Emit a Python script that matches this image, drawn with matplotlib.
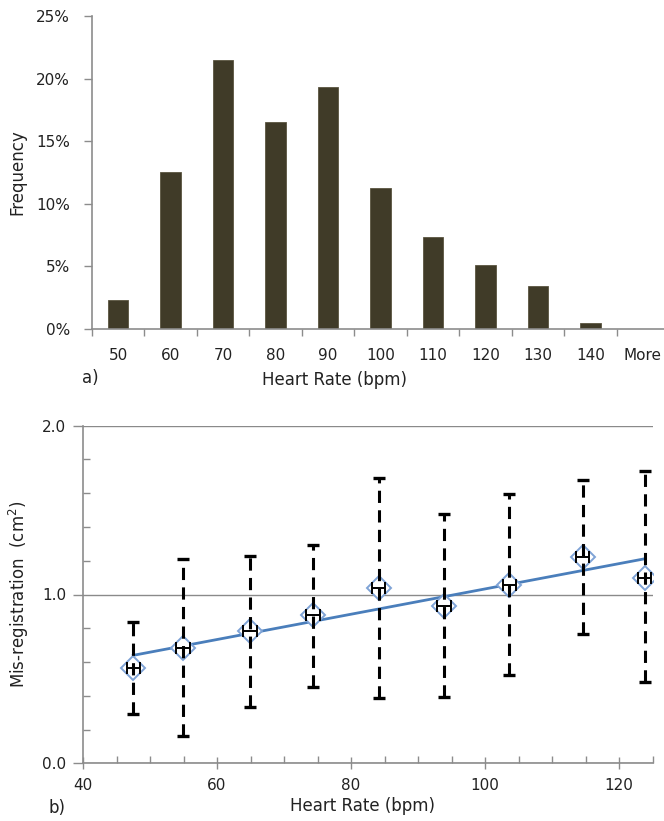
import numpy as np
import matplotlib
matplotlib.use("Agg")
import matplotlib.pyplot as plt
from matplotlib.ticker import MultipleLocator, FixedLocator, NullFormatter, FuncFormatter

# ---- data: histogram (panel a)
hr_bins = ["50", "60", "70", "80", "90", "100", "110", "120", "130", "140", "More"]
freq_pct = [2.3, 12.5, 21.5, 16.5, 19.3, 11.3, 7.35, 5.1, 3.45, 0.5, 0.0]

# ---- data: mis-registration vs heart rate (panel b)
hr_mean = [47.5, 54.9, 64.9, 74.3, 84.1, 93.85, 103.6, 114.55, 123.8]
misreg = [0.563, 0.681, 0.786, 0.879, 1.037, 0.934, 1.056, 1.224, 1.10]
err_high = [0.835, 1.208, 1.230, 1.295, 1.692, 1.477, 1.597, 1.678, 1.732]
err_low = [0.292, 0.162, 0.335, 0.450, 0.385, 0.395, 0.523, 0.766, 0.480]
hr_err = [1.0, 1.0, 1.0, 1.0, 1.0, 1.0, 1.0, 1.0, 1.0]

W, H = 664, 821
fig = plt.figure(figsize=(W / 100, H / 100), dpi=100)
plt.rcParams['font.family'] = ['DejaVu Sans']
txt = '#222222'
axc = '#8c8c8c'
tick_fs = 11
lab_fs = 12

# ================= panel a =================
ax1 = fig.add_axes([92 / W, 1 - 329 / H, 577 / W, (329 - 16) / H])
x = np.arange(len(hr_bins))
ax1.bar(x, freq_pct, width=0.39, color='#403b28', edgecolor='#5a5540', linewidth=0.6)
ax1.set_xlim(-0.5, len(hr_bins) - 0.5)
ax1.set_ylim(0, 25)
ax1.yaxis.set_major_locator(MultipleLocator(5))
ax1.yaxis.set_major_formatter(FuncFormatter(lambda v, p: f"{int(round(v))}%"))
ax1.xaxis.set_major_locator(FixedLocator(np.arange(-0.5, len(hr_bins), 1.0)))
ax1.xaxis.set_major_formatter(NullFormatter())
ax1.xaxis.set_minor_locator(FixedLocator(x))
ax1.set_xticklabels(hr_bins, minor=True)
ax1.tick_params(axis='x', which='major', direction='out', length=5, color=axc, width=1)
ax1.tick_params(axis='x', which='minor', length=0, pad=14, labelsize=tick_fs, labelcolor=txt)
ax1.tick_params(axis='y', which='major', direction='out', length=6, color=axc, width=1,
                pad=10, labelsize=tick_fs, labelcolor=txt)
for s in ['top', 'right']:
    ax1.spines[s].set_visible(False)
for s in ['left', 'bottom']:
    ax1.spines[s].set_color(axc)
    ax1.spines[s].set_linewidth(1.2)
ax1.set_ylabel("Frequency", fontsize=lab_fs, color=txt, labelpad=7)
fig.text(335 / W, 1 - 380 / H, "Heart Rate (bpm)", fontsize=lab_fs, color=txt,
         ha='center', va='center')
fig.text(82 / W, 1 - 378 / H, "a)", fontsize=lab_fs, color=txt, ha='left', va='center')

# ================= panel b =================
ax2 = fig.add_axes([83 / W, 1 - 763.3 / H, (652.7 - 83) / W, (763.3 - 425.7) / H])
ax2.set_xlim(40, 125)
ax2.set_ylim(0, 2.0)
ax2.xaxis.set_major_locator(MultipleLocator(20))
ax2.xaxis.set_minor_locator(MultipleLocator(5))
ax2.yaxis.set_major_locator(MultipleLocator(1.0))
ax2.yaxis.set_minor_locator(MultipleLocator(0.2))
ax2.yaxis.set_major_formatter(FuncFormatter(lambda v, p: f"{v:.1f}"))
ax2.grid(axis='y', which='major', color='#8a8a8a', linewidth=1.0)
ax2.set_axisbelow(True)
for s in ['top', 'right']:
    ax2.spines[s].set_visible(False)
for s in ['left', 'bottom']:
    ax2.spines[s].set_color(axc)
    ax2.spines[s].set_linewidth(1.2)
ax2.tick_params(axis='x', which='major', direction='inout', length=9, color=axc, width=1,
                pad=6, labelsize=tick_fs, labelcolor=txt)
ax2.tick_params(axis='x', which='minor', direction='in', length=5, color=axc, width=1)
ax2.tick_params(axis='y', which='major', direction='out', length=7, color=axc, width=1,
                pad=5, labelsize=tick_fs, labelcolor=txt)
ax2.tick_params(axis='y', which='minor', direction='in', length=5, color=axc, width=1)

hm = np.array(hr_mean)
mr = np.array(misreg)
yerr = [mr - np.array(err_low), np.array(err_high) - mr]

# trend line (linear fit)
coef = np.polyfit(hm, mr, 1)
xx = np.array([hm.min(), hm.max()])
ax2.plot(xx, np.polyval(coef, xx), color='#4a7ebb', lw=2.0, zorder=3)

# markers
ax2.plot(hm, mr, ls='none', marker='D', ms=12, mfc='white', mec='#7fa3d6', mew=1.4, zorder=4)

# vertical dashed error bars
eb = ax2.errorbar(hm, mr, yerr=yerr, fmt='none', ecolor='black', elinewidth=2.2,
                  capsize=4.5, capthick=2.4, zorder=5)
for lc in eb[2]:
    lc.set_linestyle((0, (4.0, 2.4)))
# horizontal error bars
ax2.errorbar(hm, mr, xerr=hr_err, fmt='none', ecolor='black', elinewidth=1.4,
             capsize=4, capthick=1.4, zorder=5)

ax2.set_ylabel("Mis-registration  (cm$^2$)", fontsize=lab_fs, color=txt, labelpad=8)
fig.text(362 / W, 1 - 806 / H, "Heart Rate (bpm)", fontsize=lab_fs, color=txt,
         ha='center', va='center')
fig.text(48 / W, 1 - 808 / H, "b)", fontsize=lab_fs, color=txt, ha='left', va='center')

fig.savefig("out.png", dpi=100)
